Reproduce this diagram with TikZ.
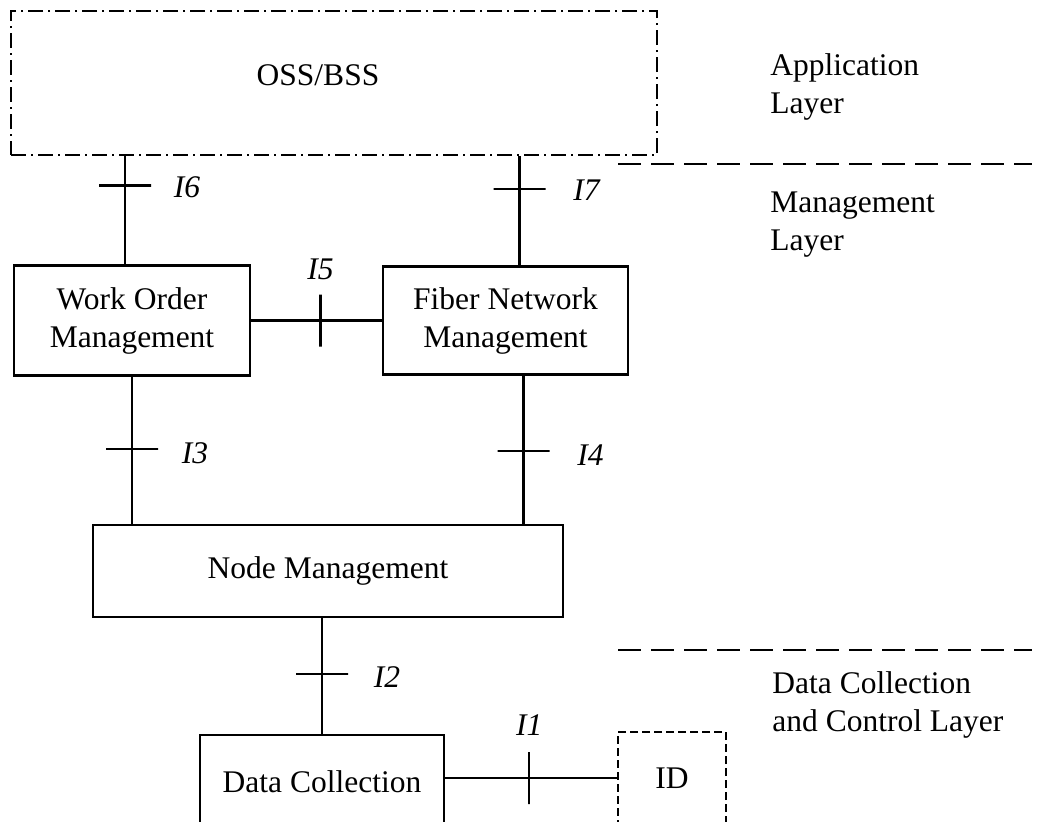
\documentclass[tikz,border=0pt]{standalone}
\usepackage{fontspec}
\setmainfont{Liberation Serif}

\tikzset{
    block/.style={draw, line width=1.2pt, align=center, inner sep=0pt},
    ossbox/.style={block, dash pattern=on 7.5pt off 2.5pt on 1pt off 2.5pt},
    idbox/.style={block, dash pattern=on 4pt off 2pt},
    link/.style={line width=1.2pt},
    htick/.style={draw, line width=1.2pt, inner sep=0pt, minimum width=26pt, minimum height=0pt},
    vtick/.style={draw, line width=1.2pt, inner sep=0pt, minimum width=0pt, minimum height=26pt},
    iflabel/.style={inner sep=0pt, font=\fontsize{15.75}{19}\selectfont\itshape},
    layerline/.style={line width=1.2pt, dash pattern=on 11.5pt off 5pt},
    layertext/.style={align=left, anchor=north west, inner sep=0pt}
}

\begin{document}
\begin{tikzpicture}[x=0.5pt, y=-0.5pt, font=\fontsize{15.75}{19}\selectfont]
        \clip (0,0) rectangle (1037,821);

        \node[ossbox, minimum width=323pt, minimum height=72pt] (oss) at (334,83) {};
        \node (osstext) at ([xshift=-8pt, yshift=4pt]oss.center) {OSS/BSS};
        \node[block, minimum width=118pt, minimum height=55pt] (wom) at (132,320.5) {Work Order\\Management};
        \node[block, minimum width=122.5pt, minimum height=54pt] (fnm) at (505.5,320.5) {Fiber Network\\Management};
        \node[block, minimum width=235pt, minimum height=46pt] (nm) at (328,571) {Node Management};
        \node[block, minimum width=122pt, minimum height=47pt] (dc) at (322,782) {Data Collection};
        \node[idbox, minimum width=54pt, minimum height=46pt] (id) at (672,778) {ID};

        % Interfaces
        \draw[link] ([xshift=-3.5pt]wom.north |- oss.south) -- ([xshift=-3.5pt]wom.north)
            node[pos=.27, htick] {} node[pos=.27, iflabel, xshift=31pt, yshift=-1pt] {I6};
        \draw[link] ([xshift=7pt]fnm.north |- oss.south) -- ([xshift=7pt]fnm.north)
            node[pos=.3, htick] {} node[pos=.3, iflabel, xshift=33.5pt, yshift=-0.5pt] {I7};
        \draw[link] (wom.east) -- (wom.east -| fnm.west)
            node[pos=.53, vtick] {} node[pos=.53, iflabel, yshift=25.5pt] {I5};
        \draw[link] (wom.south) -- (wom.south |- nm.north)
            node[pos=.49, htick] {} node[pos=.49, iflabel, xshift=31.5pt, yshift=-2pt] {I3};
        \draw[link] ([xshift=9pt]fnm.south) -- ([xshift=9pt]fnm.south |- nm.north)
            node[pos=.51, htick] {} node[pos=.51, iflabel, xshift=33.5pt, yshift=-2pt] {I4};
        \draw[link] (nm.south -| dc.north) -- (dc.north)
            node[pos=.48, htick] {} node[pos=.48, iflabel, xshift=32.5pt, yshift=-1.5pt] {I2};
        \draw[link] (id.west -| dc.east) -- (id.west)
            node[pos=.49, vtick] {} node[pos=.49, iflabel, yshift=26.5pt] {I1};

        % Layers
        \draw[layerline] (618,164) -- (1032,164);
        \draw[layerline] (618,650) -- (1032,650);
        \node[layertext] (app) at (770,53) {Application\\Layer};
        \node[layertext] (mgmt) at (770,191) {Management\\Layer};
        \node[layertext] (dcc) at (772,671.5) {Data Collection\\and Control Layer};
    \end{tikzpicture}
\end{document}
